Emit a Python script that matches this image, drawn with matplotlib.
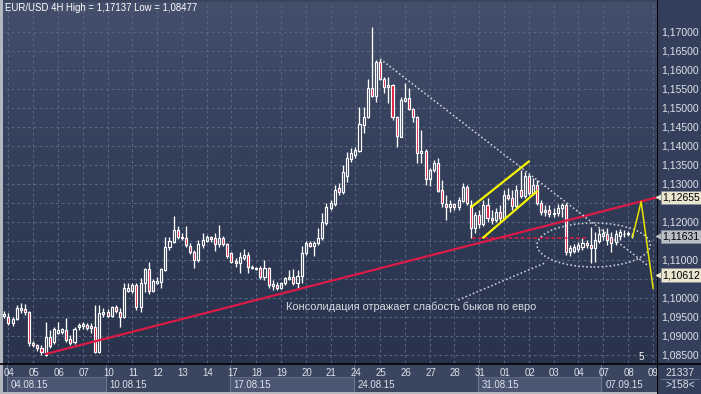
import numpy as np
import matplotlib
matplotlib.use('Agg')
import matplotlib.pyplot as plt
from matplotlib import transforms
from matplotlib.patches import Ellipse, Rectangle
from matplotlib.lines import Line2D
from matplotlib.colors import LinearSegmentedColormap

# EUR/USD 4H candles (one row = open, high, low, close)
candles = [
    (1.0953, 1.0967, 1.0948, 1.0959), (1.0951, 1.0961, 1.0930, 1.0935), (1.0935, 1.0951, 1.0927, 1.0946),
    (1.0946, 1.0982, 1.0943, 1.0975), (1.0969, 1.0988, 1.0961, 1.0975), (1.0972, 1.0985, 1.0956, 1.0964),
    (1.0964, 1.0967, 1.0875, 1.0883), (1.0883, 1.0888, 1.0872, 1.0877), (1.0877, 1.0880, 1.0862, 1.0869),
    (1.0869, 1.0877, 1.0851, 1.0859), (1.0851, 1.0938, 1.08477, 1.0898), (1.0898, 1.0917, 1.0869, 1.0875),
    (1.0885, 1.0924, 1.0880, 1.0919), (1.0909, 1.0938, 1.0906, 1.0917), (1.0911, 1.0922, 1.0906, 1.0919),
    (1.0917, 1.0948, 1.0885, 1.0891), (1.0893, 1.0903, 1.0877, 1.0883), (1.0885, 1.0924, 1.0880, 1.0919),
    (1.0924, 1.0935, 1.0917, 1.0930), (1.0927, 1.0938, 1.0919, 1.0932), (1.0930, 1.0935, 1.0917, 1.0922),
    (1.0927, 1.0935, 1.0909, 1.0922), (1.0924, 1.0982, 1.0856, 1.0859), (1.0859, 1.0982, 1.0856, 1.0961),
    (1.0959, 1.0975, 1.0951, 1.0964), (1.0964, 1.0972, 1.0951, 1.0953), (1.0953, 1.0980, 1.0951, 1.0977),
    (1.0977, 1.0982, 1.0961, 1.0967), (1.0964, 1.0975, 1.0924, 1.0951), (1.0951, 1.1040, 1.0948, 1.1027),
    (1.1019, 1.1040, 1.1017, 1.1027), (1.1019, 1.1040, 1.1014, 1.1035), (1.1035, 1.1040, 1.0969, 1.0977),
    (1.0977, 1.1053, 1.0964, 1.1040), (1.1040, 1.1080, 1.1017, 1.1077), (1.1077, 1.1096, 1.1011, 1.1019),
    (1.1019, 1.1051, 1.1017, 1.1046), (1.1040, 1.1056, 1.1038, 1.1046), (1.1043, 1.1080, 1.1027, 1.1077),
    (1.1075, 1.1161, 1.1072, 1.1135), (1.1135, 1.1161, 1.1127, 1.1151), (1.1148, 1.1217, 1.1146, 1.1180),
    (1.1180, 1.1190, 1.1156, 1.1161), (1.1161, 1.1172, 1.1153, 1.1159), (1.1159, 1.1190, 1.1135, 1.1140),
    (1.1138, 1.1146, 1.1117, 1.1122), (1.1122, 1.1127, 1.1080, 1.1101), (1.1101, 1.1153, 1.1096, 1.1143),
    (1.1140, 1.1172, 1.1132, 1.1153), (1.1151, 1.1167, 1.1148, 1.1161), (1.1161, 1.1164, 1.1148, 1.1156),
    (1.1159, 1.1172, 1.1124, 1.1143), (1.1143, 1.1193, 1.1135, 1.1159), (1.1159, 1.1164, 1.1138, 1.1143),
    (1.1143, 1.1146, 1.1106, 1.1111), (1.1119, 1.1122, 1.1093, 1.1096), (1.1098, 1.1106, 1.1082, 1.1093),
    (1.1093, 1.1122, 1.1067, 1.1109), (1.1106, 1.1130, 1.1101, 1.1114), (1.1114, 1.1122, 1.1067, 1.1082),
    (1.1082, 1.1088, 1.1077, 1.1080), (1.1080, 1.1082, 1.1075, 1.1077), (1.1080, 1.1085, 1.1051, 1.1056),
    (1.1056, 1.1101, 1.1048, 1.1080), (1.1080, 1.1082, 1.1027, 1.1035), (1.1032, 1.1048, 1.1022, 1.1038),
    (1.1035, 1.1043, 1.1022, 1.1027), (1.1027, 1.1043, 1.1024, 1.1040), (1.1040, 1.1056, 1.1035, 1.1053),
    (1.1051, 1.1075, 1.1048, 1.1056), (1.1056, 1.1077, 1.1035, 1.1040), (1.1040, 1.1075, 1.1027, 1.1059),
    (1.1059, 1.1138, 1.1040, 1.1119), (1.1119, 1.1151, 1.1114, 1.1146), (1.1146, 1.1151, 1.1135, 1.1138),
    (1.1138, 1.1151, 1.1111, 1.1146), (1.1146, 1.1185, 1.1140, 1.1159), (1.1159, 1.1225, 1.1153, 1.1201),
    (1.1198, 1.1251, 1.1193, 1.1241), (1.1238, 1.1259, 1.1232, 1.1251), (1.1248, 1.1298, 1.1243, 1.1285),
    (1.1290, 1.1303, 1.1272, 1.1280), (1.1280, 1.1351, 1.1274, 1.1332), (1.1322, 1.1385, 1.1306, 1.1369),
    (1.1367, 1.1396, 1.1359, 1.1382), (1.1377, 1.1398, 1.1369, 1.1390), (1.1388, 1.1503, 1.1385, 1.1459),
    (1.1456, 1.1503, 1.1435, 1.1477), (1.1477, 1.1577, 1.1474, 1.1553), (1.1553, 1.17137, 1.1530, 1.1532),
    (1.1532, 1.1627, 1.1517, 1.1622), (1.1622, 1.1630, 1.1575, 1.1577), (1.1577, 1.1582, 1.1540, 1.1556),
    (1.1556, 1.1582, 1.1514, 1.1561), (1.1561, 1.1564, 1.1469, 1.1477), (1.1477, 1.1480, 1.1398, 1.1427),
    (1.1424, 1.1530, 1.1424, 1.1522), (1.1519, 1.1567, 1.1517, 1.1527), (1.1527, 1.1553, 1.1495, 1.1498),
    (1.1498, 1.1501, 1.1464, 1.1477), (1.1477, 1.1480, 1.1356, 1.1382), (1.1382, 1.1443, 1.1356, 1.1388),
    (1.1388, 1.1393, 1.1298, 1.1314), (1.1314, 1.1343, 1.1296, 1.1338), (1.1338, 1.1364, 1.1332, 1.1356),
    (1.1356, 1.1369, 1.1280, 1.1282), (1.1285, 1.1311, 1.1241, 1.1251), (1.1248, 1.1272, 1.1206, 1.1241),
    (1.1241, 1.1259, 1.1227, 1.1248), (1.1248, 1.1251, 1.1232, 1.1241), (1.1241, 1.1267, 1.1232, 1.1259),
    (1.1256, 1.1303, 1.1253, 1.1293), (1.1293, 1.1298, 1.1246, 1.1251), (1.1246, 1.1259, 1.1159, 1.1185),
    (1.1185, 1.1227, 1.1172, 1.1219), (1.1219, 1.1232, 1.1185, 1.1196), (1.1196, 1.1259, 1.1190, 1.1246),
    (1.1246, 1.1264, 1.1201, 1.1211), (1.1211, 1.1232, 1.1196, 1.1206), (1.1206, 1.1238, 1.1201, 1.1227),
    (1.1227, 1.1246, 1.1201, 1.1211), (1.1211, 1.1285, 1.1206, 1.1272), (1.1272, 1.1290, 1.1259, 1.1264),
    (1.1264, 1.1285, 1.1232, 1.1243), (1.1243, 1.1298, 1.1238, 1.1285), (1.1285, 1.1338, 1.1264, 1.1269),
    (1.1269, 1.1332, 1.1264, 1.1322), (1.1322, 1.1327, 1.1272, 1.1277), (1.1277, 1.1317, 1.1272, 1.1298),
    (1.1298, 1.1311, 1.1246, 1.1251), (1.1251, 1.1259, 1.1219, 1.1227), (1.1227, 1.1246, 1.1217, 1.1232),
    (1.1232, 1.1246, 1.1214, 1.1222), (1.1222, 1.1238, 1.1214, 1.1225), (1.1225, 1.1248, 1.1217, 1.1238),
    (1.1238, 1.1251, 1.1214, 1.1246), (1.1246, 1.1251, 1.1114, 1.1122), (1.1122, 1.1140, 1.1111, 1.1132),
    (1.1124, 1.1143, 1.1119, 1.1135), (1.1130, 1.1148, 1.1122, 1.1140), (1.1135, 1.1159, 1.1127, 1.1146),
    (1.1146, 1.1153, 1.1132, 1.1140), (1.1140, 1.1188, 1.1093, 1.1132), (1.1132, 1.1175, 1.1096, 1.1153),
    (1.1151, 1.1185, 1.1146, 1.1169), (1.1164, 1.1182, 1.1153, 1.1172), (1.1169, 1.1185, 1.1140, 1.1153),
    (1.1161, 1.1175, 1.1122, 1.1146), (1.1148, 1.1180, 1.1140, 1.1169), (1.1164, 1.1182, 1.1153, 1.1175),
    (1.1169, 1.1180, 1.1161, 1.1170), (1.1169, 1.1177, 1.1164, 1.1172), (1.1164, 1.1172, 1.1159, 1.11631),
]

day_labels = ['04', '05', '06', '07', '10', '11', '12', '13', '14', '17', '18', '19', '20', '21',
              '24', '25', '26', '27', '28', '31', '01', '02', '03', '04', '07', '08', '09']
week_labels = ['04.08.15', '10.08.15', '17.08.15', '24.08.15', '31.08.15', '07.09.15']
week_first_day = [0, 4, 9, 14, 19, 24]
price_ticks = np.round(np.arange(1.085, 1.1701, 0.005), 3)

# drawn analysis objects (candle index, price)
trend_red = ([9.85, 158.0], [1.0853, 1.12655])
dotted_down = ([91.0, 156.0], [1.1630, 1.1085])
dotted_up = ([109.9, 130.9], [1.09955, 1.10929])
channel_top = ([113.2, 127.0], [1.1241, 1.1360])
channel_bottom = ([116.0, 128.9], [1.1160, 1.1281])
support_level = ([113.2, 141.1], [1.1159, 1.1159])
forecast = ([152.1, 154.2, 157.1], [1.11605, 1.12542, 1.10263])
range_center, range_width, range_height = (142.7, 1.11403), 27.4, 0.01158
price_marks = [1.12655, 1.11631, 1.10612]
price_mark_colors = ['#e9e5cf', '#b9bdc6', '#e9e5cf']
note = 'Консолидация отражает слабость быков по евро'
note_pos = (68.2, 1.0977)

W, H = 701, 394
font = 'Liberation Sans'
txt_col = '#dde2ea'

def fx(px):
    return px / W

def fy(py):
    return 1 - py / H

fig = plt.figure(figsize=(W / 100, H / 100), dpi=100, facecolor='#3a4560')
ax = fig.add_axes([fx(3), fy(363), (657 - 3) / W, (363 - 2) / H])

# background gradient
cmap = LinearSegmentedColormap.from_list('bg', ['#29334c', '#2e3954', '#37435e', '#434f6b'])
grad = np.linspace(0, 1, 256).reshape(-1, 1)
ax.imshow(grad, extent=[0, 1, 0, 1], transform=ax.transAxes, aspect='auto', cmap=cmap,
          origin='lower', zorder=0)
ax.set_xlim(-0.315, 158.04)
ax.set_ylim(1.082974, 1.177974)

# grid
day_pos = np.array([1 + 6 * k for k in range(len(day_labels))])
ax.hlines(price_ticks, -1, 160, color='#57637f', lw=0.8, linestyles=(0, (2.5, 2.5)), zorder=1)
ax.vlines(day_pos, 1.08, 1.18, color='#57637f', lw=0.8, linestyles=(0, (2.5, 2.5)), zorder=1)

# candles
arr = np.array(candles)
o, h, l, c = arr[:, 0], arr[:, 1], arr[:, 2], arr[:, 3]
x = np.arange(len(arr))
up = c >= o
top = np.maximum(o, c)
bot = np.minimum(o, c)
hgt = np.maximum(top - bot, 0.00012)
ax.vlines(x, top, h, color='white', lw=0.95, zorder=3)
ax.vlines(x, l, bot, color='white', lw=0.95, zorder=3)
ax.bar(x[up], hgt[up], bottom=bot[up], width=0.5, facecolor='none', edgecolor='white', lw=0.85, zorder=4)
ax.bar(x[~up], hgt[~up], bottom=bot[~up], width=0.5, facecolor='#d8183c', edgecolor='white', lw=0.85, zorder=4)

# analysis lines
ax.plot(*trend_red, color='#dc1a46', lw=1.6, zorder=5, solid_capstyle='butt')
ax.plot(*support_level, color='#dc1a46', lw=1.1, ls=(0, (2.5, 1.5)), zorder=5)
ax.plot(*dotted_down, color='#cdd1da', lw=1.15, ls=(0, (1, 1.5)), zorder=5)
ax.plot(*dotted_up, color='#cdd1da', lw=1.15, ls=(0, (1, 1.5)), zorder=5)
ax.add_patch(Ellipse(range_center, range_width, range_height, fill=False, edgecolor='#cdd1da',
                     lw=1.15, ls=(0, (1, 1.5)), zorder=5))
ax.plot(*channel_top, color='#f5f500', lw=1.6, zorder=6)
ax.plot(*channel_bottom, color='#f5f500', lw=1.6, zorder=6)
ax.plot(*forecast, color='#e6e600', lw=1.1, zorder=6)

ax.text(*note_pos, note, fontsize=7.9, family=font, color='#d6dae2', va='center', ha='left', zorder=7)
ax.set_xticks([])
ax.set_yticks([])
for s in ax.spines.values():
    s.set_visible(False)

# header and small marks
fig.text(fx(5), fy(8), 'EUR/USD 4H High = 1,17137 Low = 1,08477', fontsize=6.9, family=font,
         color='white', va='center', ha='left')
fig.text(fx(641), fy(357), '5', fontsize=7, family=font, color='white', va='center', ha='center')

# bottom time axis
bt = transforms.blended_transform_factory(ax.transData, fig.transFigure)
for k, w in enumerate(week_labels):
    i0 = day_pos[week_first_day[k]] - 0.4
    i1 = day_pos[week_first_day[k + 1]] - 0.4 if k + 1 < len(week_labels) else 158.5
    if k % 2 == 0:
        ax.add_patch(Rectangle((i0, fy(392)), i1 - i0, fy(377) - fy(392), transform=bt,
                               facecolor='#4b5672', edgecolor='#5c6782', lw=0.7, clip_on=False))
    ax.add_artist(Line2D([i0, i0], [fy(392), fy(364)], transform=bt, color='#6b7590', lw=0.8,
                         clip_on=False))
    ax.text(i0 + 0.9, fy(384.5), w, transform=bt, fontsize=7, family=font, color=txt_col,
            va='center', ha='left', clip_on=False)
for p, d in zip(day_pos, day_labels):
    ax.text(p + 0.2, fy(372.5), d, transform=bt, fontsize=7, family=font, color=txt_col,
            va='center', ha='center', clip_on=False)
fig.add_artist(Line2D([0, fx(657)], [fy(363.5), fy(363.5)], color='black', lw=1.2))

# right price panel
axr = fig.add_axes([fx(657), 0, 1 - fx(657), 1], facecolor='#34405b', zorder=3)
axr.set_xlim(0, 1)
axr.set_ylim(0, 1)
axr.set_xticks([])
axr.set_yticks([])
for s in axr.spines.values():
    s.set_visible(False)
axr.axvline(0, color='black', lw=1.5)
axr.axhline(fy(363.5), color='black', lw=1.2)
rt = transforms.blended_transform_factory(axr.transAxes, ax.transData)
for v in price_ticks:
    # levels hidden behind the price marks are not printed
    if min(abs(v - m) for m in price_marks) < 0.0025:
        continue
    axr.text(0.1, v, f'{v:.5f}'.replace('.', ','), transform=rt, fontsize=7.5, family=font,
             color=txt_col, va='center', ha='left')
for v, col in zip(price_marks, price_mark_colors):
    axr.text(0.12, v, f'{v:.5f}'.replace('.', ','), transform=rt, fontsize=7.5, family=font,
             color='black', va='center', ha='left',
             bbox=dict(boxstyle='square,pad=0.15', facecolor=col, edgecolor='#8a8e96', lw=0.6))
    axr.plot([0.05], [v], marker='<', ms=4.5, color=col, transform=rt, clip_on=False)
axr.text(0.52, fy(372.5), '21337', fontsize=7.5, family=font, color=txt_col, va='center', ha='center')
axr.plot([0.08, 0.95], [fy(378.5), fy(378.5)], color='#6b7590', lw=0.7)
axr.text(0.52, fy(385.5), '>158<', fontsize=7.5, family=font, color=txt_col, va='center', ha='center')

# outer frame
fig.add_artist(Rectangle((0, 0), fx(2.5), 1, transform=fig.transFigure, facecolor='#b3b7bf', edgecolor='none'))
fig.add_artist(Rectangle((0, 0), 1, 2.5 / H, transform=fig.transFigure, facecolor='#b3b7bf', edgecolor='none'))

fig.savefig('out.png', dpi=100, facecolor=fig.get_facecolor())
